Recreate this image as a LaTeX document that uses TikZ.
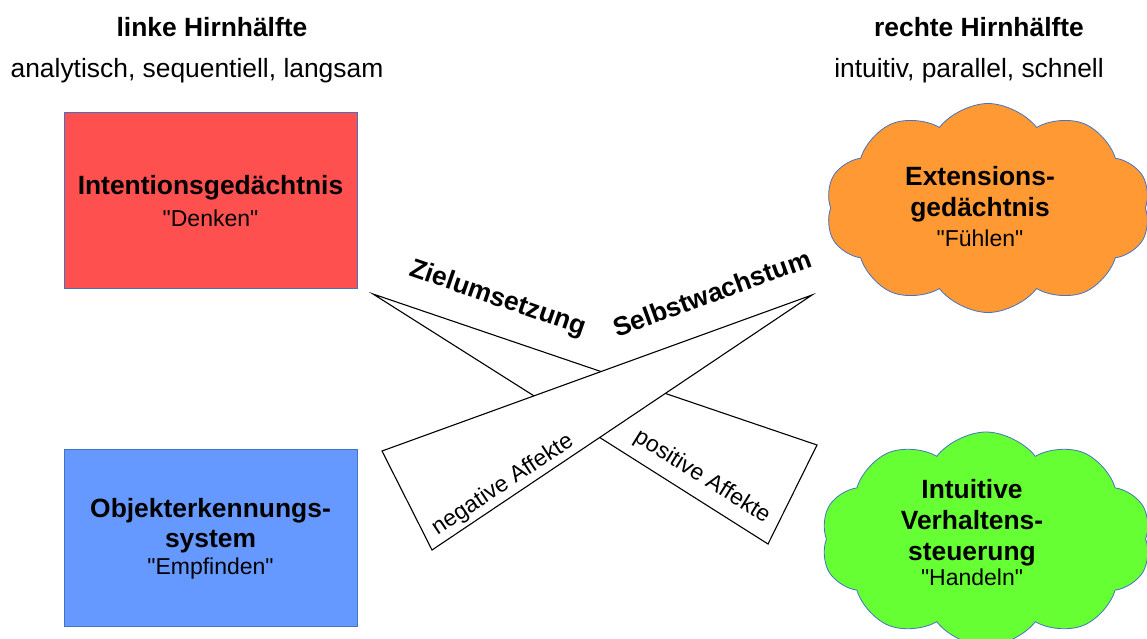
\documentclass[tikz,border=0pt]{standalone}
\usepackage{fontspec}
\setmainfont{Liberation Sans}[Ligatures=TeXOff]
\usetikzlibrary{shapes.symbols}
\definecolor{boxred}{HTML}{FF5050}
\definecolor{boxblue}{HTML}{6699FF}
\definecolor{cloudorange}{HTML}{FF9933}
\definecolor{cloudgreen}{HTML}{66FF33}
\definecolor{edgeblue}{HTML}{4472C4}
\newcommand\bigfnt{\fontsize{26.4}{31}\selectfont}
\newcommand\subfnt{\fontsize{23}{29}\selectfont}
\begin{document}
\begin{tikzpicture}[x=1pt,y=-1pt,
  hdr/.style={font=\bigfnt, inner sep=0pt, anchor=center},
  brainbox/.style={draw=edgeblue, line width=0.8pt, minimum width=293pt, minimum height=176pt, inner sep=0pt},
  brainCloud/.style={shape=cloud, draw=edgeblue, line width=0.8pt, cloud puffs=10, cloud puff arc=105, cloud ignores aspect, inner sep=0pt},
  inside/.style={align=center, font=\bigfnt, inner sep=0pt},
  wedge/.style={draw=black, line width=1.1pt, fill=white, line join=miter},
  wedgelabel/.style={font=\bigfnt\bfseries, inner sep=0pt},
  affectlabel/.style={font=\subfnt, inner sep=0pt}]
\useasboundingbox (0,0) rectangle (1147,638);
% headers
\node[hdr, font=\bigfnt\bfseries] (lh) at (212,27) {linke Hirnhälfte};
\node[hdr] (ls) at (197,71) {analytisch, sequentiell, langsam};
\node[hdr, font=\bigfnt\bfseries] (rh) at (979,27) {rechte Hirnhälfte};
\node[hdr] (rs) at (969,71) {intuitiv, parallel, schnell};
% boxes
\node[brainbox, fill=boxred] (int) at (210.5,200) {};
\node[inside] (intt) at (210.5,201) {\textbf{Intentionsgedächtnis}\\[1pt]{\subfnt "Denken"}};
\node[brainbox, fill=boxblue, minimum height=177pt] (obj) at (210.5,537.5) {};
\node[inside] (objt) at (210.5,539) {\textbf{Objekterkennungs-}\\[-1pt]\textbf{system}\\[-4pt]{\subfnt "Empfinden"}};
% clouds
\node[brainCloud, fill=cloudorange, minimum width=325pt, minimum height=209pt] (ext) at (988,208) {};
\node[inside] (extt) at (980,207) {\textbf{Extensions-}\\\textbf{gedächtnis}\\[-1pt]{\subfnt "Fühlen"}};
\node[brainCloud, fill=cloudgreen, minimum width=330pt, minimum height=214pt] (ivs) at (986,539) {};
\node[inside] (ivst) at (972,533) {\textbf{Intuitive}\\\textbf{Verhaltens-}\\\textbf{steuerung}\\[-6pt]{\subfnt "Handeln"}};
% wedges
\coordinate (zt) at (373,294);
\coordinate (za) at (817,445);
\coordinate (zb) at (768,544);
\coordinate (st) at (812,295);
\coordinate (sa) at (382,451);
\coordinate (sb) at (432,550);
\draw[wedge] (zt) -- (za) -- (zb) -- cycle;
\draw[wedge] (st) -- (sa) -- (sb) -- cycle;
\node[wedgelabel, rotate=-19] (zl) at (498,299) {Zielumsetzung};
\node[wedgelabel, rotate=20] (sl) at (712,293) {Selbstwachstum};
\node[affectlabel, rotate=33.5] (nl) at (503,485) {negative Affekte};
\node[affectlabel, rotate=-32] (pl) at (702,477) {positive Affekte};
\end{tikzpicture}
\end{document}
